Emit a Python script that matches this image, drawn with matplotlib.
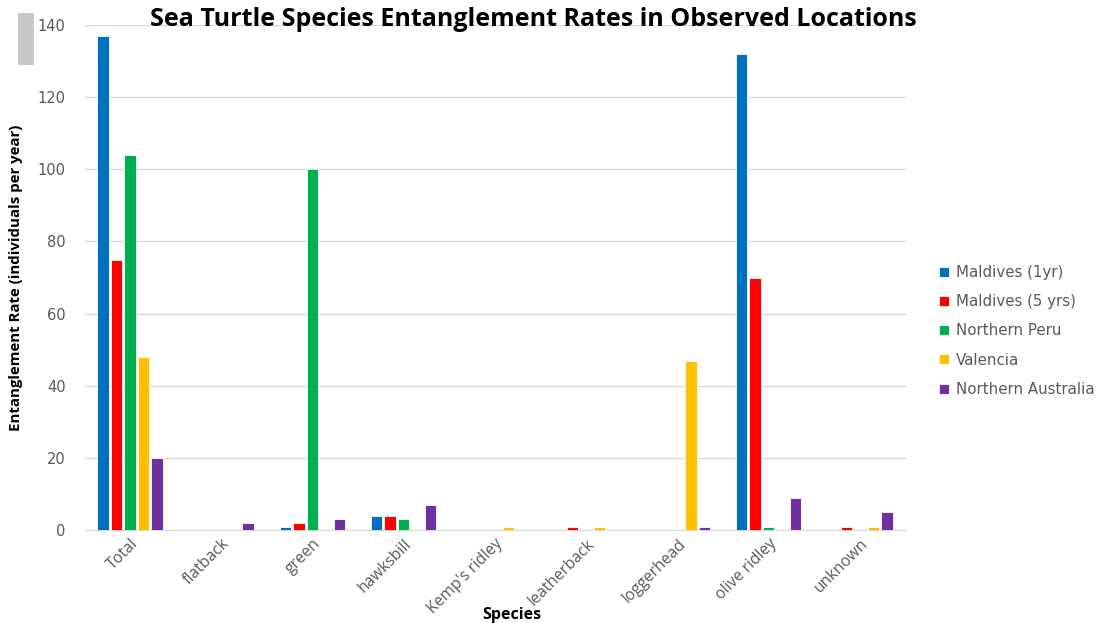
import numpy as np
import matplotlib.pyplot as plt
from matplotlib.patches import Rectangle

species = ['Total', 'flatback', 'green', 'hawksbill', "Kemp's ridley",
           'leatherback', 'loggerhead', 'olive ridley', 'unknown']
locations = ['Maldives (1yr)', 'Maldives (5 yrs)', 'Northern Peru',
             'Valencia', 'Northern Australia']
maldives_1yr = [137, 0, 1, 4, 0, 0, 0, 132, 0]
maldives_5yrs = [75, 0, 2, 4, 0, 1, 0, 70, 1]
northern_peru = [104, 0, 100, 3, 0, 0, 0, 1, 0]
valencia = [48, 0, 0, 0, 1, 1, 47, 0, 1]
northern_australia = [20, 2, 3, 7, 0, 0, 1, 9, 5]
colors = ['#0070C0', '#FF0000', '#00B050', '#FFC000', '#7030A0']

series = [maldives_1yr, maldives_5yrs, northern_peru, valencia, northern_australia]

plt.rcParams['font.family'] = ['Open Sans', 'DejaVu Sans']

fig = plt.figure(figsize=(11.07, 6.23), dpi=100)
ax = fig.add_axes([0.077, 0.149, 0.741, 0.811])

x = np.arange(len(species))
step = 0.148
width = 0.125
for i, (vals, name, c) in enumerate(zip(series, locations, colors)):
    ax.bar(x + (i - 2) * step, vals, width, color=c, label=name,
           edgecolor='white', linewidth=0.6, zorder=3)

ax.set_xlim(-0.49, 8.5)
ax.set_ylim(0, 140)
ax.set_yticks(range(0, 141, 20))
ax.yaxis.grid(True, color='#D9D9D9', linewidth=1, zorder=0)
for s in ['top', 'right', 'left']:
    ax.spines[s].set_visible(False)
ax.spines['bottom'].set_color('#D9D9D9')
ax.tick_params(axis='both', length=0, colors='#595959')
ax.tick_params(axis='y', pad=14)
ax.tick_params(axis='x', pad=4)
ax.set_xticks(x)
ax.set_xticklabels(species, rotation=45, ha='right', rotation_mode='anchor')
for lab in ax.get_yticklabels():
    lab.set_fontfamily('DejaVu Sans')
    lab.set_fontsize(10.5)
for lab in ax.get_xticklabels():
    lab.set_fontsize(11.3)

ax.set_ylabel('Entanglement Rate (individuals per year)', fontsize=10.8,
              fontweight='bold', labelpad=11)
fig.text(0.462, 0.013, 'Species', ha='center', va='center',
         fontsize=11.5, fontweight='bold')
fig.text(0.4815, 0.968, 'Sea Turtle Species Entanglement Rates in Observed Locations',
         ha='center', va='center', fontsize=18, fontweight='bold')

leg = fig.legend(loc='center left', bbox_to_anchor=(0.836, 0.469), frameon=False,
                 prop={'family': 'DejaVu Sans', 'size': 10.8},
                 handlelength=0.65, handleheight=0.65,
                 labelspacing=0.95, handletextpad=0.5)
for t in leg.get_texts():
    t.set_color('#595959')

# grey marker block in the corner
fig.patches.append(Rectangle((0.0163, 0.896), 0.0145, 0.083, transform=fig.transFigure,
                             facecolor='#C8C8C8', edgecolor='none'))

fig.savefig('out.png', dpi=100)
